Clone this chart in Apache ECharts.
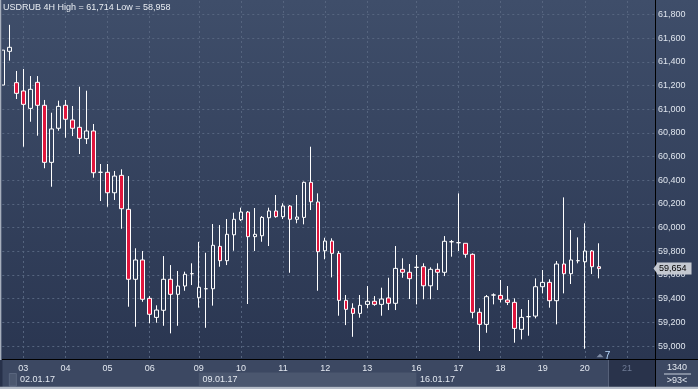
<!DOCTYPE html>
<html><head><meta charset="utf-8">
<script src="https://cdn.jsdelivr.net/npm/echarts@6/dist/echarts.min.js"></script>
<style>html,body{margin:0;padding:0;background:#2f3b56;}#c{width:698px;height:389px;}</style>
</head><body><div id="c"></div>
<script>
const titleText = 'USDRUB 4H High = 61,714 Low = 58,958';
const opens  = [61205,61490,61225,61155,61008,61228,61034,60552,60840,61034,60910,60848,60752,60817,60468,60468,60295,60442,60155,59564,59727,59403,59242,59302,59564,59437,59507,59611,59408,59484,59484,59842,59721,59940,60067,60132,59924,59932,60084,60141,60093,60183,60071,60087,60383,60217,59805,59887,59783,59386,59319,59276,59352,59378,59352,59406,59361,59648,59623,59665,59670,59509,59648,59623,59881,59873,59868,59775,59285,59183,59431,59428,59389,59369,59141,59248,59253,59501,59538,59383,59693,59611,59721,59712,59803,59670];
const closes = [61500,61524,61135,61042,61169,61034,60552,60834,61025,60916,60840,60755,60817,60464,60468,60295,60436,60160,59564,59727,59395,59268,59304,59564,59437,59507,59606,59611,59496,59484,59851,59721,59944,60071,60132,59924,59944,60087,60141,60093,60183,60071,60090,60383,60219,59797,59887,59783,59386,59310,59276,59344,59378,59352,59397,59361,59656,59623,59569,59665,59509,59648,59623,59885,59881,59873,59775,59285,59183,59417,59431,59395,59369,59149,59242,59248,59501,59538,59383,59693,59611,59727,59721,59803,59670,59654];
const lows   = [61205,61411,61087,60684,60895,60777,60502,60346,60819,60760,60774,60622,60707,60422,60225,60177,60234,59991,59332,59163,59374,59192,59197,59171,59107,59171,59467,59515,59324,59154,59341,59670,59684,59805,60056,59355,59803,59881,59845,60084,60073,59619,60037,60028,60149,59467,59733,59580,59256,59177,59078,59239,59319,59340,59256,59304,59304,59577,59397,59352,59395,59395,59473,59591,59755,59803,59746,59234,58958,59112,59352,59369,59346,59028,59056,59087,59234,59445,59324,59183,59445,59524,59699,58977,59608,59572];
const highs  = [61500,61714,61324,61341,61281,61281,61079,60971,61073,61079,61028,61191,61157,60876,60538,60538,60479,60493,60436,59826,59803,59422,59344,59760,59684,59634,59628,59699,59880,59788,60031,60022,60073,60126,60169,60141,60166,60098,60169,60276,60206,60191,60276,60390,60684,60290,59915,59910,59803,59431,59361,59431,59507,59422,59493,59577,59845,59741,59693,59769,59699,59665,59699,59929,59896,60290,59868,59783,59319,59431,59445,59558,59507,59403,59312,59389,59572,59642,59564,59718,60256,59980,59918,60037,59811,59868];
const dayLabels = ['03','04','05','06','09','10','11','12','13','16','17','18','19','20','21'];
const dayStarts = [3,9,15,21,28,34,40,46,52,59,65,71,77,83,89];
const weekLabels = ['02.01.17','09.01.17','16.01.17'];
const weekStarts = [2,28,59];
const barCount = 94;
const yMin = 58800, yMax = 62000, yStep = 200;
const lastPrice = 59654;
const footerBars = '1340';
const footerShift = '>93<';
const shiftMarker = '7';

const FONT = '"Liberation Sans", Arial, sans-serif';
const fmt = v => Number(v).toLocaleString('en-US');
const cats = Array.from({length: barCount}, (_, i) => String(i));
const ohlc = opens.map((o, i) => [o, closes[i], lows[i], highs[i]]);
const isDay = i => dayStarts.indexOf(i) >= 0;

const chart = echarts.init(document.getElementById('c'), null, {renderer: 'canvas', width: 698, height: 389});
const gridLine = {color: '#56657f', type: [2, 3], width: 1};

chart.setOption({
  animation: false,
  backgroundColor: {type: 'linear', x: 0, y: 0, x2: 0, y2: 1,
    colorStops: [{offset: 0, color: '#3f4e6a'}, {offset: 0.92, color: '#2a3651'}, {offset: 1, color: '#2a3651'}]},
  title: {text: titleText, left: 3, top: 3, padding: 0,
    textStyle: {color: '#e8ecf2', fontSize: 9, fontWeight: 'normal', fontFamily: FONT}},
  grid: [
    {left: 2.3, right: 43, top: -9.04, height: 378.74, outerBoundsMode: 'none', containLabel: false},
    {left: 2.3, right: 43, top: 330, height: 33.5, outerBoundsMode: 'none', containLabel: false}
  ],
  xAxis: [
    {gridIndex: 0, type: 'category', data: cats, boundaryGap: false,
      axisLine: {show: false}, axisTick: {show: false}, axisLabel: {show: false},
      splitLine: {show: true, interval: (i) => isDay(i), lineStyle: gridLine}, z: 0},
    {gridIndex: 1, type: 'category', data: cats, boundaryGap: false,
      axisLine: {show: false}, axisTick: {show: false}, splitLine: {show: false},
      axisLabel: {show: true, interval: (i) => isDay(i), margin: 0.5,
        formatter: (v, i) => { const j = dayStarts.indexOf(Number(v)); return j >= 0 ? dayLabels[j] : ''; },
        color: (v) => Number(v) >= 86 ? '#6f7b95' : '#e3e8f0',
        fontSize: 9, fontFamily: FONT}, z: 10}
  ],
  yAxis: [
    {gridIndex: 0, type: 'value', position: 'right', min: yMin, max: yMax, interval: yStep,
      axisLine: {show: true, lineStyle: {color: '#000', width: 1}}, axisTick: {show: false},
      splitLine: {show: true, lineStyle: gridLine},
      axisLabel: {color: '#dfe5ee', fontSize: 9, margin: 3, formatter: fmt, fontFamily: FONT}, z: 0},
    {gridIndex: 1, type: 'value', show: false}
  ],
  series: [{
    type: 'candlestick', xAxisIndex: 0, yAxisIndex: 0, data: ohlc, barWidth: 4,
    itemStyle: {color: 'rgba(0,0,0,0)', color0: '#e0163d', borderColor: '#ffffff', borderColor0: '#ffffff', borderColorDoji: '#ffffff', borderWidth: 1},
    markLine: {symbol: ['none', 'none'], silent: true, animation: false,
      lineStyle: {color: 'rgba(0,0,0,0)', width: 0},
      label: {show: true, position: 'end', distance: 2, formatter: p => fmt(p.value),
        color: '#000', backgroundColor: '#c4c8d0', padding: [1, 5, 1, 2], fontSize: 9, lineHeight: 10, fontFamily: FONT},
      data: [{yAxis: lastPrice}]}
  }]
});

const px = k => chart.convertToPixel({xAxisIndex: 0}, k);
const py = v => chart.convertToPixel({yAxisIndex: 0}, v);
const txt = (text, x, y, fill, align, size) => ({type: 'text', x: x, y: y, z: 12, silent: true,
  style: {text: text, fill: fill, fontSize: size || 9, fontFamily: FONT, align: align || 'left', verticalAlign: 'middle', textAlign: align || 'left', textVerticalAlign: 'middle'}});
const rect = (x, y, w, h, fill, z, stroke) => ({type: 'rect', z: z, silent: true, shape: {x: x, y: y, width: w, height: h}, style: stroke ? {fill: fill, stroke: stroke, lineWidth: 1} : {fill: fill}});

const els = [];
els.push(rect(0, 360, 698, 27, '#3c4862', 5));
els.push(rect(0, 360, 2.5, 27, '#27314a', 6));
els.push(rect(px(weekStarts[1]), 372.5, px(weekStarts[2]) - px(weekStarts[1]), 13.5, '#4b576f', 6));
els.push(rect(px(1), 373.5, px(2) - px(1), 12.5, '#4b576f', 6, '#59657e'));
const fx = px(86) + 2;
els.push(rect(fx, 360, 655 - fx, 27, '#29334b', 7));
els.push(rect(fx, 360, 1, 27, '#5d6981', 8));
els.push(rect(0, 359, 698, 1, '#000', 9));
els.push(rect(655, 359, 1, 28, '#000', 9));
els.push(rect(0, 386.7, 698, 2.3, '#b5bcc8', 9));
els.push(rect(0, 0, 1, 360, '#a6aebc', 9));
els.push(rect(1, 0, 1, 360, '#56627a', 9));
weekLabels.forEach((w, j) => els.push(txt(w, px(weekStarts[j]) + 3.7, 379.6, '#e3e8f0')));
els.push(txt(footerBars, 677, 367.3, '#e3e8f0', 'center'));
els.push(rect(664, 373.5, 27, 1, '#c8d0dc', 12));
els.push(txt(footerShift, 677, 380.6, '#e3e8f0', 'center'));
els.push({type: 'polygon', z: 6, silent: true, shape: {points: [[596.5, 357.3], [600, 353.8], [603.5, 357.3]]}, style: {fill: '#7d8aa3'}});
els.push(txt(shiftMarker, 607.5, 355.8, '#bcdcff', 'center', 10));
const yp = py(lastPrice);
els.push({type: 'polygon', z: 12, silent: true, shape: {points: [[653.5, yp], [657.5, yp - 5.5], [657.5, yp + 5.5]]}, style: {fill: '#c4c8d0'}});
chart.setOption({graphic: {elements: els}});
</script>
</body></html>
